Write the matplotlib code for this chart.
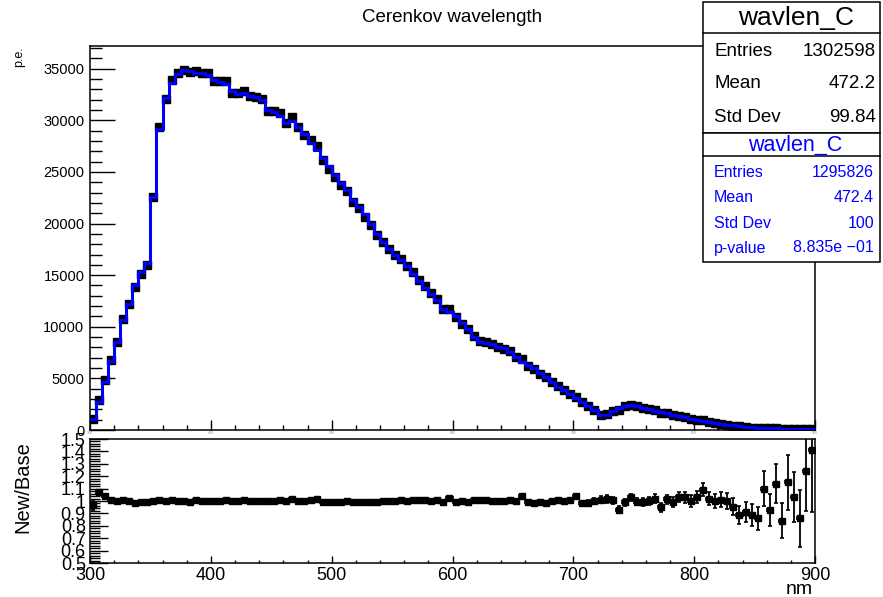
import numpy as np
import matplotlib
matplotlib.use("Agg")
import matplotlib.pyplot as plt
from matplotlib.ticker import MultipleLocator, FuncFormatter
from matplotlib.patches import Rectangle
from matplotlib.lines import Line2D

plt.rcParams['font.family'] = ['Liberation Sans', 'DejaVu Sans']

# wavelength binning (nm)
bin_lo, bin_hi, bin_width = 300, 900, 5

# base sample, p.e. per 5 nm bin
base_counts = [
    1060, 2740, 4670, 6700, 8540, 10640, 12250, 14020, 15310, 16180,
    22560, 29170, 32170, 33590, 34490, 34880, 34810, 34590, 34590, 34420,
    33910, 33720, 33520, 32810, 32560, 32620, 32400, 32230, 31980, 31010,
    30780, 30460, 29720, 29910, 29330, 28650, 27830, 27080, 26320, 25580,
    24660, 23920, 23210, 22310, 21600, 20890, 19920, 19020, 18210, 17570,
    16920, 16440, 15860, 15150, 14400, 13800, 13220, 12570, 11770, 11440,
    11020, 10320, 9830, 9030, 8540, 8440, 8320, 8060, 7900, 7570,
    7090, 6610, 6290, 5960, 5480, 5160, 4670, 4200, 3850, 3450,
    3100, 2750, 2350, 1900, 1450, 1480, 1870, 2090, 2320, 2390,
    2320, 2160, 2030, 1870, 1770, 1610, 1450, 1350, 1230, 1090,
    970, 870, 770, 680, 580, 520, 450, 390, 320, 260,
    220, 190, 170, 150, 130, 110, 100, 90, 80, 70,
]

# New/Base per bin
ratio = [
    0.965, 1.07, 1.04, 1.005, 1.0, 1.008, 1.0, 0.985, 0.99, 0.988,
    1.0, 1.005, 0.998, 1.01, 1.004, 1.0, 0.995, 1.006, 1.0, 1.004,
    0.997, 1.003, 1.009, 0.996, 1.002, 1.006, 0.998, 1.0, 1.004, 0.998,
    1.003, 1.008, 1.0, 1.014, 1.002, 0.996, 1.008, 1.015, 0.992, 0.99,
    0.995, 0.993, 0.996, 0.99, 0.994, 0.99, 0.995, 0.992, 0.998, 0.996,
    1.002, 1.005, 1.0, 1.01, 1.006, 1.012, 1.004, 1.008, 0.995, 1.025,
    0.995, 0.998, 0.992, 1.008, 1.005, 1.01, 1.004, 1.0, 0.998, 1.005,
    1.0, 1.04, 0.988, 0.985, 0.99, 0.986, 1.0, 1.005, 1.0, 1.008,
    1.04, 0.98, 0.985, 1.0, 1.01, 1.015, 1.005, 0.93, 0.99, 1.03,
    0.995, 0.99, 1.0, 1.02, 0.95, 1.013, 0.995, 1.03, 1.03, 1.0,
    1.03, 1.09, 1.02, 1.0, 1.01, 1.0, 0.955, 0.887, 0.914, 0.887,
    0.86, 1.10, 0.93, 1.14, 0.84, 1.15, 1.03, 0.86, 1.24, 1.41,
]

ratio_err = [
    0.035, 0.02, 0.015, 0.012, 0.01, 0.01, 0.009, 0.009, 0.008, 0.008,
    0.008, 0.008, 0.008, 0.008, 0.008, 0.008, 0.008, 0.008, 0.008, 0.008,
    0.008, 0.008, 0.008, 0.008, 0.008, 0.008, 0.008, 0.008, 0.008, 0.008,
    0.008, 0.008, 0.008, 0.008, 0.008, 0.008, 0.008, 0.008, 0.008, 0.008,
    0.009, 0.009, 0.009, 0.009, 0.009, 0.009, 0.009, 0.009, 0.009, 0.009,
    0.009, 0.009, 0.009, 0.01, 0.01, 0.01, 0.01, 0.01, 0.01, 0.01,
    0.01, 0.011, 0.011, 0.011, 0.011, 0.012, 0.012, 0.012, 0.012, 0.012,
    0.013, 0.013, 0.014, 0.014, 0.015, 0.016, 0.016, 0.017, 0.018, 0.019,
    0.02, 0.022, 0.024, 0.026, 0.028, 0.03, 0.03, 0.03, 0.03, 0.03,
    0.03, 0.032, 0.033, 0.035, 0.036, 0.038, 0.04, 0.042, 0.044, 0.046,
    0.05, 0.052, 0.055, 0.058, 0.06, 0.064, 0.07, 0.075, 0.08, 0.085,
    0.09, 0.14, 0.13, 0.16, 0.14, 0.22, 0.2, 0.23, 0.32, 0.5,
]

stats_new = [("Entries", "1302598"), ("Mean", "472.2"), ("Std Dev", "99.84")]
stats_base = [("Entries", "1295826"), ("Mean", "472.4"), ("Std Dev", "100"),
              ("p-value", "8.835e \u221201")]
hist_name = "wavlen_C"

edges = np.arange(bin_lo, bin_hi + bin_width, bin_width)
centers = edges[:-1] + bin_width / 2
new_counts = np.array(base_counts) * np.array(ratio)

W, H = 883, 597
fig = plt.figure(figsize=(W / 100, H / 100), dpi=100)


def fx(x):
    return x / W


def fy(y):
    return 1 - y / H


# upper pad: spectra
ax = fig.add_axes([fx(90), fy(430), fx(815) - fx(90), fy(46) - fy(430)])
ax.errorbar(centers, new_counts, xerr=bin_width / 2, fmt='s', ms=5.5,
            color='black', elinewidth=1.2, capsize=0, zorder=2)
ax.stairs(base_counts, edges, baseline=None, color=(0, 0, 1), lw=2.2, zorder=3)
ax.set_xlim(bin_lo, bin_hi)
ax.set_ylim(0, 37200)
ax.yaxis.set_major_locator(MultipleLocator(5000))
ax.yaxis.set_minor_locator(MultipleLocator(1000))
ax.xaxis.set_major_locator(MultipleLocator(100))
ax.xaxis.set_minor_locator(MultipleLocator(20))
ax.tick_params(axis='y', which='major', direction='in', length=18, width=1,
               labelsize=10.5, pad=4)
ax.tick_params(axis='y', which='minor', direction='in', length=8.5, width=1)
ax.tick_params(axis='x', which='major', direction='in', length=7, width=1,
               labelsize=2.5, labelcolor='0.55', pad=1)
ax.tick_params(axis='x', which='minor', direction='in', length=3.5, width=1)
for s in ax.spines.values():
    s.set_linewidth(1.1)

# lower pad: ratio
ax2 = fig.add_axes([fx(90), fy(563), fx(815) - fx(90), fy(439) - fy(563)])
ax2.errorbar(centers, ratio, xerr=bin_width / 2, yerr=ratio_err, fmt='s',
             ms=4.5, color='black', elinewidth=1.3, capsize=1.6, capthick=1.2)
ax2.set_xlim(bin_lo, bin_hi)
ax2.set_ylim(0.5, 1.5)
ax2.yaxis.set_major_locator(MultipleLocator(0.1))
ax2.yaxis.set_minor_locator(MultipleLocator(0.02))
ax2.yaxis.set_major_formatter(FuncFormatter(lambda v, p: f"{v:g}"))
ax2.xaxis.set_major_locator(MultipleLocator(100))
ax2.xaxis.set_minor_locator(MultipleLocator(20))
ax2.tick_params(axis='y', which='major', direction='in', length=13, width=1,
                labelsize=13, pad=3)
ax2.tick_params(axis='y', which='minor', direction='in', length=7, width=1)
ax2.tick_params(axis='x', which='major', direction='in', length=5, width=1,
                labelsize=13, pad=3)
ax2.tick_params(axis='x', which='minor', direction='in', length=2.5, width=1)
for s in ax2.spines.values():
    s.set_linewidth(1.1)

# titles and axis labels
fig.text(fx(452), fy(17), "Cerenkov wavelength", fontsize=13.5,
         ha='center', va='center')
fig.text(fx(19), fy(57), "p.e.", fontsize=9, rotation=90,
         ha='center', va='center')
fig.text(fx(23), fy(487), "New/Base", fontsize=14.5, rotation=90,
         ha='center', va='center')
fig.text(fx(813), fy(589), "nm", fontsize=14, ha='right', va='center')

# stat boxes
box_l, box_r = 703, 880
fig.add_artist(Rectangle((fx(box_l), fy(133)), fx(box_r) - fx(box_l),
                         fy(2) - fy(133), transform=fig.transFigure,
                         facecolor='white', edgecolor='black', lw=1.1))
fig.add_artist(Rectangle((fx(box_l), fy(262)), fx(box_r) - fx(box_l),
                         fy(133) - fy(262), transform=fig.transFigure,
                         facecolor='white', edgecolor='black', lw=1.1))
for yline in (33, 156):
    fig.add_artist(Line2D([fx(box_l), fx(box_r)], [fy(yline), fy(yline)],
                          transform=fig.transFigure, color='black', lw=1.1))

fig.text(fx(796), fy(18), hist_name, fontsize=19, ha='center', va='center')
for (name, val), y in zip(stats_new, (52, 84, 117)):
    fig.text(fx(714), fy(y), name, fontsize=13.5, ha='left', va='center')
    fig.text(fx(876), fy(y), val, fontsize=13.5, ha='right', va='center')

blue = (0, 0, 1)
fig.text(fx(795), fy(145), hist_name, fontsize=15.5, color=blue,
         ha='center', va='center')
for (name, val), y in zip(stats_base, (172, 198, 223, 248)):
    fig.text(fx(714), fy(y), name, fontsize=11.5, color=blue,
             ha='left', va='center')
    fig.text(fx(874), fy(y), val, fontsize=11.5, color=blue,
             ha='right', va='center')

fig.savefig("out.png", dpi=100)
